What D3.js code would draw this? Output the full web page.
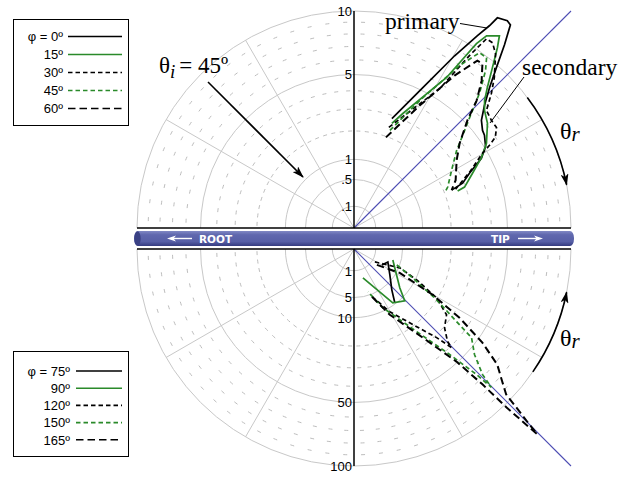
<!DOCTYPE html>
<html>
<head>
<meta charset="utf-8">
<script src="https://cdn.jsdelivr.net/npm/d3@7"></script>
<style>
  body { margin: 0; background: #fff; }
  svg { display: block; }
</style>
</head>
<body>
<div id="chart"></div>
<script>
const W = 639, H = 477;
const cx = 354, cyTop = 228, cyBot = 249, R = 217;

// radial grid values
const topTicks = [0.1, 0.5, 1, 5, 10];
const topTickLabels = [".1", ".5", "1", "5", "10"];
const topMinor = [2, 3, 4, 6, 7, 8, 9];
const botTicks = [1, 5, 10, 50, 100];
const botTickLabels = ["1", "5", "10", "50", "100"];
const botMinor = [20, 30, 40, 60, 70, 80, 90];
const spokes = [-60, -30, 30, 60];

// scattered intensity: [theta_r in degrees from the normal (+ toward tip), value]
const phi0 = [[19.1,2.85],[25.6,4.93],[30.3,8.45],[32.7,11.09],[33.8,12.58],[34.3,13.75],[36.5,14.11],[37.6,13.96],[39.4,11.94],[41.6,9.77],[44.0,8.08],[46.8,6.80],[49.8,5.91],[52.8,5.53],[54.6,5.44],[58.2,5.09],[61.3,4.48],[64.6,3.47],[67.6,2.93],[68.8,2.33]];
const phi15 = [[19.9,2.63],[23.1,3.29],[31.6,6.63],[33.6,10.40],[34.6,11.57],[37.1,12.34],[38.5,11.27],[40.8,9.53],[43.5,7.97],[45.7,7.07],[48.0,6.55],[51.9,6.11],[57.4,5.25],[61.0,4.51],[65.2,3.62],[69.7,2.95],[70.4,2.57]];
const phi30 = [[19.1,2.41],[31.6,5.69],[33.8,9.14],[35.0,11.33],[36.8,11.36],[39.1,10.70],[43.0,8.99],[45.6,7.85],[48.4,6.66],[51.9,6.47],[54.8,6.46],[57.3,5.99],[58.6,5.35],[59.8,4.69],[64.2,3.50],[69.1,2.51]];
const phi45 = [[20.2,2.30],[27.3,4.37],[33.0,7.96],[35.6,9.87],[37.9,9.89],[39.9,8.93],[43.0,7.18],[45.2,5.92],[48.6,4.62],[52.9,3.52],[59.4,2.73],[66.4,2.22],[69.0,2.00]];
const phi60 = [[19.4,1.96],[28.2,4.10],[33.4,7.08],[36.4,9.18],[38.0,9.24],[40.9,8.07],[43.9,6.64],[46.5,5.19],[51.3,3.89],[56.6,3.21],[64.8,2.68],[68.8,2.33]];

const phi75 = [[60.3,2.19],[69.1,2.79],[54.2,4.15],[42.8,6.58],[37.2,9.67]];
const phi90 = [[17.2,1.94],[35.8,9.34],[44.4,11.16],[49.7,7.65],[65.1,4.30],[74.2,3.46]];
const phi120 = [[58.2,1.28],[67.6,5.21],[63.8,10.37],[59.4,19.55],[54.6,27.37],[49.0,30.56],[45.3,36.80],[44.7,40.84],[43.0,31.17],[38.9,21.16],[29.7,11.08],[19.2,4.99]];
const phi150 = [[69.6,4.43],[63.8,9.10],[58.4,19.97],[54.7,33.54],[53.0,45.97],[48.8,54.46],[45.7,68.43],[44.8,80.73],[44.3,65.25],[42.2,43.04],[37.2,22.85],[26.2,9.10],[18.0,4.30]];
const phi165 = [[55.2,1.65],[62.4,5.66],[59.8,17.59],[56.9,33.66],[53.9,53.61],[51.1,71.95],[48.2,83.94],[46.3,94.12],[45.7,109.1],[45.0,130.4],[44.7,144.0],[44.5,132.6],[43.9,102.5],[43.5,73.94],[42.3,49.20],[37.8,26.69],[28.6,11.89],[20.6,5.53]];

const topLabels = ["\u03c6 = 0º", "15º", "30º", "45º", "60º"];
const botLabels = ["\u03c6 = 75º", "90º", "120º", "150º", "165º"];

const green = "#2a8a2a";
const styles = [
  { color: "#000", dash: null },
  { color: green, dash: null },
  { color: "#000", dash: "4.5,3" },
  { color: green, dash: "4.5,3" },
  { color: "#000", dash: "7.5,4" }
];
const topSeries = [phi0, phi15, phi30, phi45, phi60];
const botSeries = [phi75, phi90, phi120, phi150, phi165];

const rTop = d3.scaleSqrt().domain([0, 10]).range([0, R]);
const rBot = d3.scaleSqrt().domain([0, 100]).range([0, R]);
const rad = (deg) => deg * Math.PI / 180;

const svg = d3.select("#chart").append("svg")
  .attr("width", W).attr("height", H);

const defs = svg.append("defs");
defs.append("marker")
  .attr("id", "head")
  .attr("viewBox", "0 0 12 8")
  .attr("refX", 11).attr("refY", 4)
  .attr("markerWidth", 12).attr("markerHeight", 8)
  .attr("markerUnits", "userSpaceOnUse")
  .attr("orient", "auto")
  .append("path")
  .attr("d", "M0,0 L12,4 L0,8 L3,4 Z")
  .attr("fill", "#000");

const grad = defs.append("linearGradient")
  .attr("id", "bar").attr("x1", 0).attr("x2", 0).attr("y1", 0).attr("y2", 1);
grad.append("stop").attr("offset", "0%").attr("stop-color", "#8088c4");
grad.append("stop").attr("offset", "25%").attr("stop-color", "#6068ae");
grad.append("stop").attr("offset", "70%").attr("stop-color", "#575fa6");
grad.append("stop").attr("offset", "100%").attr("stop-color", "#353c80");

const semicircle = (r) => `M${-r},0A${r},${r} 0 0 1 ${r},0`;

function drawHalf(g, scale, ticks, minor, series) {
  // dashed minor rings, dashes every 5 degrees
  minor.forEach((v) => {
    const r = scale(v);
    const p = r * rad(5), d = 4;
    g.append("path")
      .attr("d", semicircle(r))
      .attr("fill", "none")
      .attr("stroke", "#bdbdbd")
      .attr("stroke-width", 1)
      .attr("stroke-dasharray", d + "," + (p - d))
      .attr("stroke-dashoffset", p - (r * rad(2.5) - d / 2));
  });

  g.selectAll(".ring")
    .data(ticks)
    .enter()
    .append("path")
    .attr("d", (v) => semicircle(scale(v)))
    .attr("fill", "none")
    .attr("stroke", "#c8c8c8")
    .attr("stroke-width", 1);

  g.selectAll(".spoke")
    .data(spokes)
    .enter()
    .append("line")
    .attr("x1", 0).attr("y1", 0)
    .attr("x2", (a) => R * Math.sin(rad(a)))
    .attr("y2", (a) => -R * Math.cos(rad(a)))
    .attr("stroke", "#c8c8c8")
    .attr("stroke-width", 1);

  // specular direction
  g.append("line")
    .attr("x1", 0).attr("y1", 0)
    .attr("x2", R).attr("y2", -R)
    .attr("stroke", "#4d4db3")
    .attr("stroke-width", 1.1);

  // normal axis
  g.append("line")
    .attr("x1", 0).attr("y1", 0)
    .attr("x2", 0).attr("y2", -R)
    .attr("stroke", "#000")
    .attr("stroke-width", 1.5);

  const line = d3.lineRadial()
    .angle((d) => rad(d[0]))
    .radius((d) => scale(d[1]));

  g.selectAll(".curve")
    .data(series)
    .enter()
    .append("path")
    .attr("d", line)
    .attr("fill", "none")
    .attr("stroke", (d, i) => styles[i].color)
    .attr("stroke-width", (d, i) => (i === 4 ? 2 : 1.7))
    .attr("stroke-dasharray", (d, i) => styles[i].dash);
}

const gTop = svg.append("g").attr("transform", `translate(${cx},${cyTop})`);
drawHalf(gTop, rTop, topTicks, topMinor, topSeries);

const gBot = svg.append("g").attr("transform", `translate(${cx},${cyBot}) scale(1,-1)`);
drawHalf(gBot, rBot, botTicks, botMinor, botSeries);

// horizontal base lines
[cyTop, cyBot].forEach((y) => {
  svg.append("line")
    .attr("x1", cx - R).attr("x2", cx + R)
    .attr("y1", y).attr("y2", y)
    .attr("stroke", "#000").attr("stroke-width", 1.6);
});

// radial tick labels
const labelFont = "'Liberation Sans', Arial, sans-serif";
svg.selectAll(".tlab")
  .data(topTicks)
  .enter()
  .append("text")
  .attr("x", cx - 2)
  .attr("y", (v) => cyTop - rTop(v))
  .attr("dy", "0.38em")
  .attr("text-anchor", "end")
  .style("font", "13px " + labelFont)
  .text((v, i) => topTickLabels[i]);

svg.selectAll(".blab")
  .data(botTicks)
  .enter()
  .append("text")
  .attr("x", cx - 2)
  .attr("y", (v) => cyBot + rBot(v))
  .attr("dy", "0.38em")
  .attr("text-anchor", "end")
  .style("font", "13px " + labelFont)
  .text((v, i) => botTickLabels[i]);

// blade bar
svg.append("rect")
  .attr("x", 134).attr("y", 231)
  .attr("width", 440).attr("height", 15)
  .attr("rx", 4).attr("ry", 7)
  .attr("fill", "url(#bar)");
svg.append("ellipse")
  .attr("cx", 137.5).attr("cy", 238.5)
  .attr("rx", 3.2).attr("ry", 7.2)
  .attr("fill", "#3a4184");

const barFont = "bold 10.5px 'DejaVu Sans', Verdana, sans-serif";
svg.append("text").attr("x", 199).attr("y", 242.5)
  .attr("fill", "#fff").style("font", barFont).text("ROOT");
svg.append("text").attr("x", 491).attr("y", 242.5)
  .attr("fill", "#fff").style("font", barFont).text("TIP");
[[192, 167], [518, 543]].forEach(([a, b]) => {
  const s = Math.sign(b - a);
  svg.append("line")
    .attr("x1", a).attr("x2", b - s * 4)
    .attr("y1", 238.5).attr("y2", 238.5)
    .attr("stroke", "#fff").attr("stroke-width", 1.4);
  svg.append("path")
    .attr("d", `M${b},238.5 L${b - s * 9},235.5 L${b - s * 6.5},238.5 L${b - s * 9},241.5 Z`)
    .attr("fill", "#fff");
});

// annotations
const serif = "'Liberation Serif', 'Times New Roman', serif";
svg.append("text").attr("x", 385).attr("y", 29)
  .style("font", "23.5px " + serif).text("primary");
svg.append("line").attr("x1", 460).attr("y1", 23.5).attr("x2", 487).attr("y2", 28)
  .attr("stroke", "#000").attr("stroke-width", 1);
svg.append("text").attr("x", 522).attr("y", 75)
  .style("font", "23.5px " + serif).text("secondary");
svg.append("line").attr("x1", 524).attr("y1", 77).attr("x2", 490).attr("y2", 123)
  .attr("stroke", "#000").attr("stroke-width", 1);

const ti = svg.append("text").attr("x", 159).attr("y", 73)
  .style("font", "23px " + serif);
ti.append("tspan").text("\u03b8");
ti.append("tspan").attr("dy", 5).style("font-size", "19px").style("font-style", "italic").text("i");
ti.append("tspan").attr("dy", -5).attr("dx", 4).text("= 45º");

svg.append("line")
  .attr("x1", 208).attr("y1", 82).attr("x2", 303).attr("y2", 177)
  .attr("stroke", "#000").attr("stroke-width", 1.6)
  .attr("marker-end", "url(#head)");

// theta_r arcs
const arcR = 217;
const ptTop = (a) => [cx + arcR * Math.sin(rad(a)), cyTop - arcR * Math.cos(rad(a))];
const ptBot = (a) => [cx + arcR * Math.sin(rad(a)), cyBot + arcR * Math.cos(rad(a))];
let p1 = ptTop(53), p2 = ptTop(78.5);
svg.append("path")
  .attr("d", `M${p1}A${arcR},${arcR} 0 0 1 ${p2}`)
  .attr("fill", "none").attr("stroke", "#000").attr("stroke-width", 1.6)
  .attr("marker-end", "url(#head)");
p1 = ptBot(55.5); p2 = ptBot(78.5);
svg.append("path")
  .attr("d", `M${p1}A${arcR},${arcR} 0 0 0 ${p2}`)
  .attr("fill", "none").attr("stroke", "#000").attr("stroke-width", 1.6)
  .attr("marker-end", "url(#head)");

[[560, 139], [560, 346]].forEach(([x, y]) => {
  const t = svg.append("text").attr("x", x).attr("y", y).style("font", "24px " + serif);
  t.append("tspan").text("\u03b8");
  t.append("tspan").attr("dy", 2).style("font-size", "21px").style("font-style", "italic").text("r");
});

// legends
function legend(x, y, w, h, rowY, step, textX, lineX1, lineX2, labels) {
  svg.append("rect")
    .attr("x", x).attr("y", y).attr("width", w).attr("height", h)
    .attr("fill", "#fff").attr("stroke", "#000").attr("stroke-width", 1);
  const rows = svg.append("g").selectAll("g")
    .data(labels)
    .enter()
    .append("g")
    .attr("transform", (d, i) => `translate(0,${rowY + i * step})`);
  rows.append("text")
    .attr("x", textX).attr("y", 4.7)
    .attr("text-anchor", "end")
    .style("font", "13px " + labelFont)
    .text((d) => d);
  rows.append("line")
    .attr("x1", lineX1).attr("x2", lineX2)
    .attr("stroke", (d, i) => styles[i].color)
    .attr("stroke-width", 1.6)
    .attr("stroke-dasharray", (d, i) => styles[i].dash);
}
legend(13.5, 19.5, 115, 106, 36.5, 18, 63, 68, 122, topLabels);
legend(13.5, 351.5, 115, 105, 371, 17.2, 70, 76, 122, botLabels);
</script>
</body>
</html>
